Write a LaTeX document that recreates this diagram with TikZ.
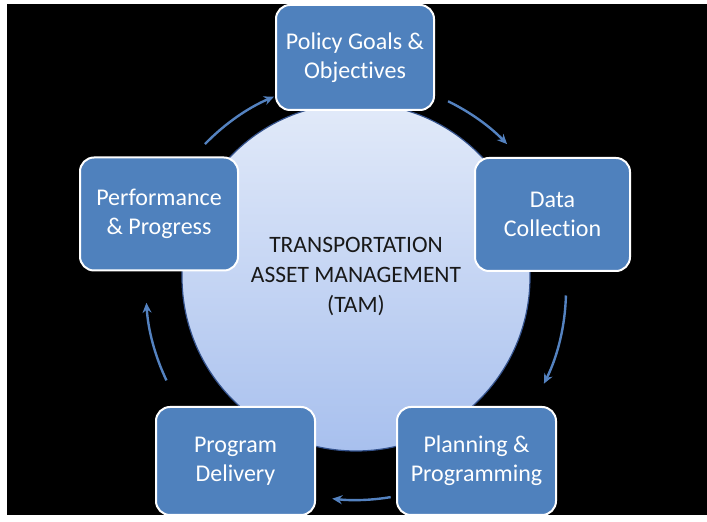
\documentclass[tikz,border=0pt]{standalone}
\usepackage{fontspec}
\setmainfont{Carlito}[Ligatures=NoCommon]
\usetikzlibrary{arrows.meta,calc}
\definecolor{boxblue}{RGB}{79,129,189}
\definecolor{arrowblue}{RGB}{84,130,192}
\definecolor{circtop}{RGB}{226,234,249}
\definecolor{circbot}{RGB}{168,192,238}
\definecolor{circedge}{RGB}{52,82,140}
\definecolor{centertext}{RGB}{25,25,25}
\tikzset{
  stagebox/.style={draw=white, line width=2pt, fill=boxblue, rounded corners=14pt,
    text=white, align=center, minimum width=157pt, minimum height=110pt, inner sep=0pt,
    font=\fontsize{24}{29}\selectfont},
  cyclearrow/.style={draw=arrowblue, line width=2.4pt, -{Stealth[length=10pt,width=9pt]}},
  tamtext/.style={text=centertext, align=center, font=\fontsize{23.5}{30}\selectfont}
}
\begin{document}
\begin{tikzpicture}[x=1pt,y=1pt]
\useasboundingbox (0,0) rectangle (707,522);
\fill[white] (0,0) rectangle (707,522);
\fill[black] (7,7) rectangle (707,518);
% central circle
\node[circle, minimum size=348pt, inner sep=0pt, draw=circedge, line width=1.2pt,
      top color=circtop, bottom color=circbot] (hub) at (356,245) {};
\node[tamtext] (tam) at (356,245) {TRANSPORTATION\\ASSET MANAGEMENT\\(TAM)};
% stage boxes
\node[stagebox, minimum width=158pt, minimum height=105pt] (policy) at (355,464.5) {Policy Goals \&\\Objectives};
\node[stagebox, minimum width=155pt, minimum height=113pt] (data) at (552.5,307.5) {Data\\Collection};
\node[stagebox, minimum width=159pt, minimum height=108pt] (plan) at (476.5,61) {Planning \&\\Programming};
\node[stagebox, minimum width=159pt, minimum height=108pt] (deliv) at (235.5,61) {Program\\Delivery};
\node[stagebox, minimum width=158pt, minimum height=113pt] (perf) at (159,308) {Performance\\\& Progress};
% arrow ring
\coordinate (ring) at (356,232);
\coordinate (a1) at ($(ring)+(136:210)$);
\coordinate (a2) at ($(ring)+(64:210)$);
\coordinate (a3) at ($(ring)+(-1.5:210)$);
\coordinate (a4) at ($(ring)+(-80.5:210)$);
\coordinate (a5) at ($(ring)+(205.5:210)$);
\draw[cyclearrow] (a1) arc[start angle=136, end angle=113, radius=210];
\draw[cyclearrow] (a2) arc[start angle=64, end angle=44, radius=210];
\draw[cyclearrow] (a3) arc[start angle=-1.5, end angle=-26.5, radius=210];
\draw[cyclearrow] (a4) arc[start angle=-80.5, end angle=-96.5, radius=210];
\draw[cyclearrow] (a5) arc[start angle=205.5, end angle=183.5, radius=210];
\end{tikzpicture}
\end{document}
